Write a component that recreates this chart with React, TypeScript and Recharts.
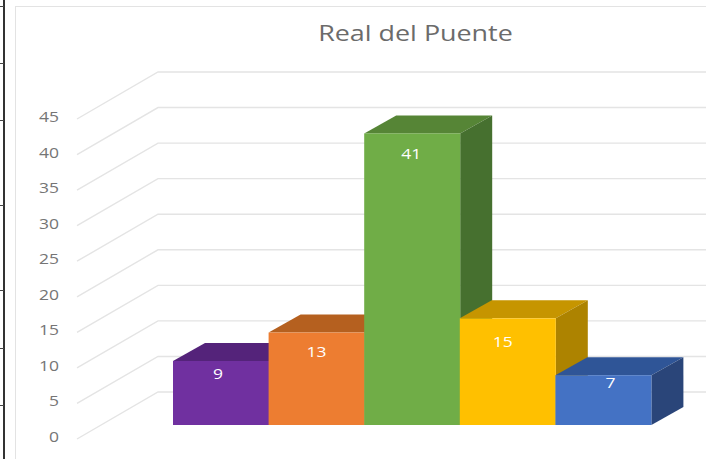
import React from 'react';
import { BarChart, Bar, XAxis, YAxis, Cell, LabelList, CartesianGrid } from 'recharts';

const categories = ['A', 'B', 'C', 'D', 'E'];
const values = [9, 13, 41, 15, 7];
const yTicks = [0, 5, 10, 15, 20, 25, 30, 35, 40, 45];
const frontColors = ['#7030A0', '#ED7D31', '#70AD47', '#FFC000', '#4472C4'];
const topColors = ['#54237A', '#B5601F', '#568536', '#C69500', '#2F5597'];
const sideColors = ['#4A1F6C', '#A5561C', '#46702F', '#AD8300', '#2A4579'];
const labelShift = [
  { dx: -3, dy: 13 },
  { dx: 0, dy: 19 },
  { dx: -1, dy: 21 },
  { dx: -5, dy: 24 },
  { dx: 7, dy: 8 },
];

const data = categories.map((name, i) => ({ name, value: values[i] }));

const FONT = '"Open Sans", sans-serif';
const DEPTH_X = 32;
const DEPTH_Y = 18;

function Bar3D(props: any) {
  const { x, y, width, height, index } = props;
  const r = x + width;
  const b = y + height;
  return (
    <g>
      <polygon
        points={`${x},${y} ${x + DEPTH_X},${y - DEPTH_Y} ${r + DEPTH_X},${y - DEPTH_Y} ${r},${y}`}
        fill={topColors[index]}
      />
      <polygon
        points={`${r},${y} ${r + DEPTH_X},${y - DEPTH_Y} ${r + DEPTH_X},${b - DEPTH_Y} ${r},${b}`}
        fill={sideColors[index]}
      />
      <rect x={x} y={y} width={width} height={height} fill={frontColors[index]} />
    </g>
  );
}

// floor + back wall line for one value
function WallLine(props: any) {
  const { y1 } = props;
  return (
    <polyline
      points={`77,${y1 + 14} 158,${y1 - 33} 706,${y1 - 33}`}
      fill="none"
      stroke="#e4e4e4"
      strokeWidth={1.4}
    />
  );
}

// the screenshot is stretched sideways, so the text is too
function AxisTick(props: any) {
  const { y, payload } = props;
  return (
    <text
      transform={`translate(59,${y + 17}) scale(1.25,1)`}
      textAnchor="end"
      fontFamily={FONT}
      fontSize={14}
      fill="#757575"
    >
      {payload.value}
    </text>
  );
}

function BarLabel(props: any) {
  const { x, y, width, index, value } = props;
  const s = labelShift[index];
  return (
    <text
      transform={`translate(${x + width / 2 + s.dx},${y + s.dy + 5}) scale(1.25,1)`}
      textAnchor="middle"
      fontFamily={FONT}
      fontSize={14}
      fontWeight={500}
      fill="#ffffff"
    >
      {value}
    </text>
  );
}

export default function App() {
  return (
    <div style={{ position: 'absolute', left: 0, top: 0, width: 706, height: 459, background: '#fff', overflow: 'hidden' }}>
      {/* leftover table lines at the left edge of the screenshot */}
      <div style={{ position: 'absolute', left: 3, top: 0, width: 2, height: 459, background: '#333' }} />
      {[6, 63, 120, 205, 290, 348, 405].map((t) => (
        <div key={t} style={{ position: 'absolute', left: 0, top: t, width: 4, height: 1, background: '#444' }} />
      ))}
      {/* chart frame */}
      <div style={{ position: 'absolute', left: 15, top: 6, width: 700, height: 460, border: '1.5px solid #e3e3e3' }} />
      <div
        style={{
          position: 'absolute',
          left: 318,
          top: 18,
          width: 195,
          textAlign: 'center',
          fontFamily: FONT,
          fontSize: 21,
          lineHeight: '30px',
          color: '#6b6b6b',
          whiteSpace: 'nowrap',
          transform: 'scaleX(1.28)',
        }}
      >
        Real del Puente
      </div>
      <div style={{ position: 'absolute', left: 0, top: 0 }}>
        <BarChart
          width={706}
          height={459}
          data={data}
          barCategoryGap={0}
          margin={{ top: 105, right: 55, bottom: 34, left: 172 }}
        >
          <CartesianGrid vertical={false} horizontal={<WallLine />} />
          <XAxis dataKey="name" hide />
          <YAxis
            domain={[0, 45]}
            ticks={yTicks}
            axisLine={false}
            tickLine={false}
            width={1}
            tick={<AxisTick />}
            interval={0}
          />
          <Bar dataKey="value" isAnimationActive={false} shape={<Bar3D />}>
            {data.map((d, i) => (
              <Cell key={d.name} fill={frontColors[i]} />
            ))}
            <LabelList dataKey="value" content={<BarLabel />} />
          </Bar>
        </BarChart>
      </div>
    </div>
  );
}
